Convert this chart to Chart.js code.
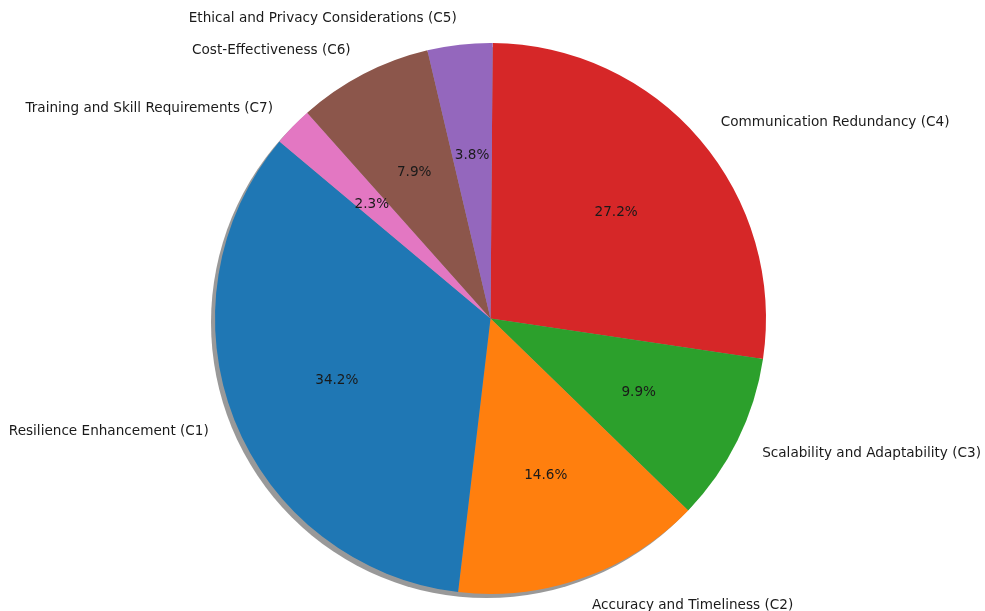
<!DOCTYPE html>
<html>
<head>
<meta charset="utf-8">
<script src="https://cdn.jsdelivr.net/npm/chart.js@4.4.1/dist/chart.umd.min.js"></script>
<style>
  html, body { margin: 0; padding: 0; background: #ffffff; }
  #wrap { width: 985px; height: 611px; }
</style>
</head>
<body>
<div id="wrap"><canvas id="pie" width="985" height="611"></canvas></div>
<script>
// Criteria and their shares (%), listed C1..C7
const categories = [
  'Resilience Enhancement (C1)',
  'Accuracy and Timeliness (C2)',
  'Scalability and Adaptability (C3)',
  'Communication Redundancy (C4)',
  'Ethical and Privacy Considerations (C5)',
  'Cost-Effectiveness (C6)',
  'Training and Skill Requirements (C7)'
];
const shares = [34.2, 14.6, 9.9, 27.2, 3.8, 7.9, 2.3];
const colors = ['#1f77b4', '#ff7f0e', '#2ca02c', '#d62728', '#9467bd', '#8c564b', '#e377c2'];

// First wedge starts at 140° (counter-clockwise from 3 o'clock) and the wedges run counter-clockwise.
const START_ANGLE = 140;

// Chart.js draws clockwise, so feed the wedges in reverse order beginning with C4
// and set the rotation so that C1 still begins at START_ANGLE.
const order = [3, 2, 1, 0, 6, 5, 4];
const total = shares.reduce((a, b) => a + b, 0);
const ccwBeforeC4End = shares.slice(0, 4).reduce((a, b) => a + b, 0) / total * 360;
const c4EndAngle = START_ANGLE + ccwBeforeC4End;             // math angle of C4's far edge
const rotation = ((90 - c4EndAngle) % 360 + 360) % 360;       // clockwise from 12 o'clock

const FONT = '13.6px "DejaVu Sans", sans-serif';

const shadowPlugin = {
  id: 'pieShadow',
  beforeDatasetsDraw(chart) {
    const arc = chart.getDatasetMeta(0).data[0];
    if (!arc) return;
    const ctx = chart.ctx;
    ctx.save();
    ctx.fillStyle = 'rgba(70,70,70,0.55)';
    ctx.beginPath();
    ctx.arc(arc.x - 4, arc.y + 4, arc.outerRadius, 0, Math.PI * 2);
    ctx.fill();
    ctx.restore();
  }
};

const labelPlugin = {
  id: 'pieLabels',
  afterDatasetsDraw(chart) {
    const ctx = chart.ctx;
    const ds = chart.data.datasets[0];
    ctx.save();
    ctx.font = FONT;
    ctx.fillStyle = '#1a1a1a';
    ctx.textBaseline = 'middle';
    chart.getDatasetMeta(0).data.forEach((arc, i) => {
      const mid = (arc.startAngle + arc.endAngle) / 2;
      const r = arc.outerRadius;
      const c = Math.cos(mid), s = Math.sin(mid);
      // percentage inside the wedge
      ctx.textAlign = 'center';
      ctx.fillText(ds.data[i].toFixed(1) + '%', arc.x + 0.6 * r * c, arc.y + 0.6 * r * s + 1);
      // category name outside the wedge
      ctx.textAlign = c >= 0 ? 'left' : 'right';
      ctx.fillText(chart.data.labels[i], arc.x + 1.1 * r * c, arc.y + 1.1 * r * s + 1);
    });
    ctx.restore();
  }
};

new Chart(document.getElementById('pie'), {
  type: 'pie',
  data: {
    labels: order.map(i => categories[i]),
    datasets: [{
      data: order.map(i => shares[i]),
      backgroundColor: order.map(i => colors[i]),
      borderWidth: 0,
      hoverOffset: 0
    }]
  },
  options: {
    responsive: false,
    animation: false,
    rotation: rotation,
    layout: { padding: { top: 43, bottom: 17, left: 0, right: 4 } },
    plugins: {
      legend: { display: false },
      tooltip: { enabled: false }
    },
    events: []
  },
  plugins: [shadowPlugin, labelPlugin]
});
</script>
</body>
</html>
